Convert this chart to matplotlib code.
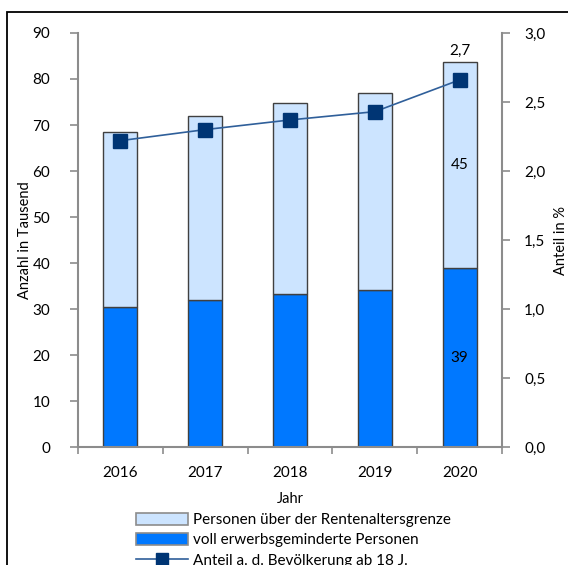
import matplotlib.pyplot as plt
import numpy as np
from matplotlib.patches import Rectangle, Patch
from matplotlib.lines import Line2D

plt.rcParams['font.family'] = ['Lato', 'DejaVu Sans']

# Daten
jahre = ['2016', '2017', '2018', '2019', '2020']
voll_erwerbsgemindert = [30.5, 32.0, 33.3, 34.1, 38.9]
ueber_rentenalter = [38.0, 40.0, 41.5, 42.9, 44.8]
anteil = [2.22, 2.30, 2.37, 2.43, 2.66]

hell = '#cce4ff'
dunkel = '#0078ff'
marker_farbe = '#003574'
linie_farbe = '#2f5f9a'
rand = '#404040'
achse = '#8c8c8c'

fig = plt.figure(figsize=(5.68, 5.65), dpi=100)
ax = fig.add_axes([0.1373, 0.2088, 0.7465, 0.7328])

x = np.arange(len(jahre))
ax.bar(x, voll_erwerbsgemindert, width=0.4, color=dunkel, edgecolor=rand, linewidth=1, zorder=2)
ax.bar(x, ueber_rentenalter, width=0.4, bottom=voll_erwerbsgemindert, color=hell,
       edgecolor=rand, linewidth=1, zorder=2)

ax.set_xlim(-0.5, len(jahre) - 0.5)
ax.set_ylim(0, 90)
ax.set_yticks(np.arange(0, 91, 10))
ax.set_xticks(x)
ax.set_xticklabels(jahre, fontsize=11)
ax.set_xticks(np.arange(-0.5, len(jahre)), minor=True)
ax.tick_params(axis='x', which='major', length=0, pad=14)
ax.tick_params(axis='x', which='minor', length=5, color=achse, width=1.2)
ax.tick_params(axis='y', length=6, color=achse, width=1.2, pad=14, labelsize=11)
for s in ['top', 'right']:
    ax.spines[s].set_visible(False)
for s in ['left', 'bottom']:
    ax.spines[s].set_color(achse)
    ax.spines[s].set_linewidth(1.5)
ax.set_ylabel('Anzahl in Tausend', fontsize=10.5, labelpad=0)
ax.set_xlabel('Jahr', fontsize=10.5, labelpad=8)

# Werte in den Balken (nur 2020)
ax.text(x[-1], voll_erwerbsgemindert[-1] / 2, f'{voll_erwerbsgemindert[-1]:.0f}',
        ha='center', va='center', fontsize=11, zorder=5)
ax.text(x[-1], voll_erwerbsgemindert[-1] + ueber_rentenalter[-1] / 2, f'{ueber_rentenalter[-1]:.0f}',
        ha='center', va='center', fontsize=11, zorder=5)

ax2 = ax.twinx()
ax2.plot(x, anteil, color=linie_farbe, linewidth=1.2, marker='s', markersize=10,
         markerfacecolor=marker_farbe, markeredgecolor=marker_farbe, zorder=4)
ax2.set_ylim(0, 3.0)
ax2.set_yticks(np.arange(0, 3.01, 0.5))
ax2.set_yticklabels([f'{v:.1f}'.replace('.', ',') for v in np.arange(0, 3.01, 0.5)])
ax2.tick_params(axis='y', length=6, color=achse, width=1.2, pad=10, labelsize=11)
for s in ['top', 'left', 'bottom']:
    ax2.spines[s].set_visible(False)
ax2.spines['right'].set_color(achse)
ax2.spines['right'].set_linewidth(1.5)
ax2.set_ylabel('Anteil in %', fontsize=10.5, labelpad=6)

gesamt = voll_erwerbsgemindert[-1] + ueber_rentenalter[-1]
ax.text(x[-1], gesamt + 0.8, f'{anteil[-1]:.1f}'.replace('.', ','), ha='center', va='bottom',
        fontsize=11, zorder=5)

handles = [
    Patch(facecolor=hell, edgecolor=achse, linewidth=1.2),
    Patch(facecolor=dunkel, edgecolor=achse, linewidth=1.2),
    Line2D([], [], color=linie_farbe, linewidth=1.2, marker='s', markersize=8,
           markerfacecolor=marker_farbe, markeredgecolor=marker_farbe),
]
labels = ['Personen über der Rentenaltersgrenze', 'voll erwerbsgeminderte Personen',
          'Anteil a. d. Bevölkerung ab 18 J.']
fig.legend(handles, labels, loc='upper left', bbox_to_anchor=(0.24, 0.092), frameon=False,
           fontsize=11, handlelength=3.4, handleheight=0.8, handletextpad=0.3,
           labelspacing=0.4, borderaxespad=0, borderpad=0)

# Rahmen um die Grafik
fig.patches.append(Rectangle((7 / 568, -0.1), 1.2, 1 - 12 / 565 + 0.1, transform=fig.transFigure,
                             fill=False, edgecolor='black', linewidth=1.3))

fig.savefig('out.png', dpi=100)
